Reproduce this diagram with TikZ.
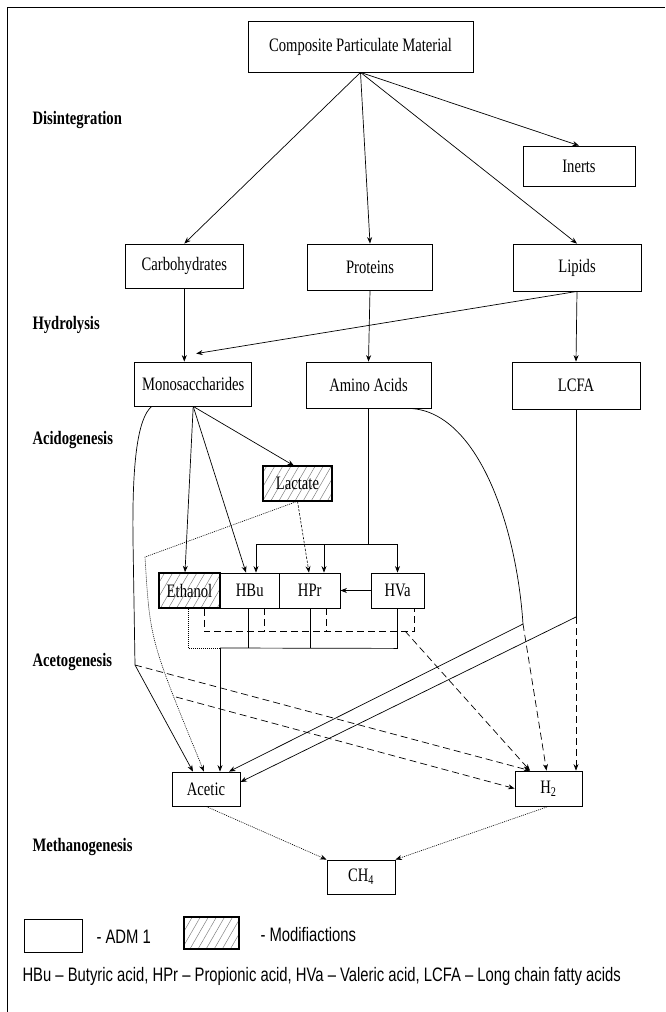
\documentclass[tikz,border=0pt]{standalone}
\usepackage{fontspec}
\setmainfont[FakeStretch=0.77]{Liberation Serif}
\newfontfamily\keyfont[FakeStretch=0.76]{Liberation Sans}
\usetikzlibrary{arrows.meta,patterns.meta}

\begin{document}
\begin{tikzpicture}[
  x=1pt, y=-1pt,
  >={Stealth[length=6.5pt,width=5pt]},
  font=\fontsize{19}{22}\selectfont,
  pool/.style={rectangle, draw, line width=0.8pt, inner sep=0pt, fill=white},
  modpool/.style={rectangle, draw, line width=1.5pt, inner sep=0pt,
                  pattern={Lines[angle=60,distance=7pt,line width=0.5pt]},
                  pattern color=gray},
  stage/.style={anchor=west, font=\fontsize{19}{22}\selectfont\bfseries},
  flow/.style={->, line width=0.7pt},
  link/.style={line width=0.7pt},
  gas/.style={line width=0.7pt, dash pattern=on 7pt off 4pt},
  trace/.style={line width=0.6pt, dash pattern=on 1pt off 1pt},
  side/.style={line width=0.6pt, dash pattern=on 2.5pt off 1.5pt},
  keytext/.style={anchor=west, font=\keyfont\fontsize{19.5}{23}\selectfont}
]
\useasboundingbox (0,0) rectangle (665,1012);
\draw[line width=0.8pt] (7,1012) -- (7,7.5) -- (665,7.5);

% ---------- Stages ----------
\node[stage] (disint) at (29,120) {Disintegration};
\node[stage] (hydro)  at (29,325) {Hydrolysis};
\node[stage] (acido)  at (29,440) {Acidogenesis};
\node[stage] (aceto)  at (29,662) {Acetogenesis};
\node[stage] (metha)  at (29,847) {Methanogenesis};

% ---------- Pools ----------
\node[pool, minimum width=225pt, minimum height=51pt] (CPM) at (360.5,46.5) {Composite Particulate Material};
\node[pool, minimum width=112pt, minimum height=40pt] (Inerts) at (579,166) {Inerts};
\node[pool, minimum width=118.6pt, minimum height=44pt] (Carb) at (184.3,266) {Carbohydrates};
\node[pool, minimum width=125pt, minimum height=46pt] (Prot) at (370,267) {Proteins};
\node[pool, minimum width=128pt, minimum height=47pt] (Lip) at (577,267.5) {Lipids};
\node[pool, minimum width=117pt, minimum height=44pt] (Mono) at (193.2,384) {Monosaccharides};
\node[pool, minimum width=125pt, minimum height=46pt] (Amino) at (368.5,385) {Amino Acids};
\node[pool, minimum width=128pt, minimum height=47pt] (LCFA) at (576,385.5) {LCFA};
\node[modpool, minimum width=69pt, minimum height=35pt] (Lact) at (297.5,483.5) {Lactate};
\node[pool, minimum width=59.5pt, minimum height=35pt] (HBu) at (249.75,590.5) {HBu};
\node[pool, minimum width=60.5pt, minimum height=35pt] (HPr) at (309.75,590.5) {HPr};
\node[pool, minimum width=53pt, minimum height=35pt] (HVa) at (397.5,590.5) {HVa};
\node[modpool, minimum width=61pt, minimum height=35pt] (Eth) at (189.5,590.5) {Ethanol};
\node[pool, minimum width=68pt, minimum height=34pt] (Acetic) at (206,789) {Acetic};
\node[pool, minimum width=67pt, minimum height=35pt] (Htwo) at (548.5,788.5) {H\textsubscript{2}};
\node[pool, minimum width=68pt, minimum height=34pt] (Methane) at (361,877) {CH\textsubscript{4}};

% ---------- Disintegration / hydrolysis ----------
\foreach \t in {Carb,Prot,Lip,Inerts} \draw[flow] (CPM.south) -- (\t.north);
\draw[flow] (Carb.south) -- (Carb.south |- Mono.north);
\draw[flow] (Prot.south) -- (Amino.north);
\draw[flow] (Lip.south) -- ([xshift=3pt,yshift=8pt]Mono.north);
\draw[flow] (Lip.south) -- (LCFA.north);

% ---------- Acidogenesis ----------
\coordinate (aabar) at (368.5,544);
\draw[flow] (Mono.south) -- ([xshift=-3.5pt]Lact.north);
\draw[flow] (Mono.south) -- ([xshift=-4.5pt]Eth.north);
\draw[flow] (Mono.south) -- ([xshift=-3.75pt]HBu.north);
\draw[link] (Amino.south) -- (aabar);
\draw[flow] (aabar) -| ([xshift=6.25pt]HBu.north);
\draw[flow] (aabar) -| ([xshift=14.25pt]HPr.north);
\draw[flow] (aabar) -| (HVa.north);
\draw[flow, side] (Lact.south) -- ([xshift=-0.75pt]HPr.north);
\draw[flow] (HVa.west) -- (HPr.east);

% ---------- Acetogenesis ----------
\coordinate (lacbend) at (145,557);
\coordinate (lacbr) at (176,697);
\coordinate (monobend) at (135,665);
\coordinate (dcol) at (405,631);
\coordinate (scol) at (220,648);
\coordinate (aaknee) at (523,624);
\coordinate (lcknee) at (576,617);

% to acetic
\draw[flow] ([xshift=-41.5pt]Mono.south) .. controls (138,418) and (132,460) .. (133,540)
  -- (monobend) -- ([xshift=-13pt]Acetic.north);
\draw[flow, trace] (Lact.south) -- (lacbend) .. controls (150,640) .. ([xshift=-2pt]Acetic.north);
\draw[link] ([xshift=-1.75pt]HBu.south) -- ++(0,40);
\draw[link] ([xshift=0.25pt]HPr.south) -- ++(0,40);
\draw[link] (HVa.south) -- ++(0,40) -- (scol);
\draw[trace] ([xshift=-1.5pt]Eth.south) |- (scol);
\draw[flow] (scol) -- (scol |- Acetic.north);
\draw[link] ([xshift=38.5pt]Amino.south) .. controls (475,408) and (516,520) .. (aaknee);
\draw[flow] (aaknee) -- ([xshift=23pt]Acetic.north);
\draw[link] (LCFA.south) -- (lcknee);
\draw[flow] (lcknee) -- ([yshift=7pt]Acetic.east);

% to hydrogen
\draw[gas] ([xshift=14.5pt]Eth.south) -- ++(0,23) -| ([xshift=16.5pt]HVa.south);
\draw[gas] ([xshift=14.25pt]HBu.south) -- ++(0,23);
\draw[gas] ([xshift=16.25pt]HPr.south) -- ++(0,23);
\draw[flow, gas] (dcol) -- ([xshift=-18.5pt]Htwo.north);
\draw[flow, gas] (monobend) -- ([xshift=-18.5pt]Htwo.north);
\draw[flow, gas] (lacbr) -- (Htwo.west);
\draw[flow, gas] (aaknee) -- ([xshift=-2pt]Htwo.north);
\draw[flow, gas] (lcknee) -- ([xshift=27.5pt]Htwo.north);

% ---------- Methanogenesis ----------
\draw[flow, trace] (Acetic.south) -- (Methane.north west);
\draw[flow, trace] (Htwo.south) -- (Methane.north east);

% ---------- Key ----------
\node[pool, minimum width=58pt, minimum height=33pt] (keyadm) at (53,935.5) {};
\node[keytext] (keyadmlab) at (93,937) {- ADM 1};
\node[modpool, minimum width=55pt, minimum height=32pt] (keymod) at (211.5,933) {};
\node[keytext] (keymodlab) at (257,935) {- Modifiactions};
\node[keytext] (abbrev) at (19,976) {HBu – Butyric acid, HPr – Propionic acid, HVa – Valeric acid, LCFA – Long chain fatty acids};

\end{tikzpicture}
\end{document}
